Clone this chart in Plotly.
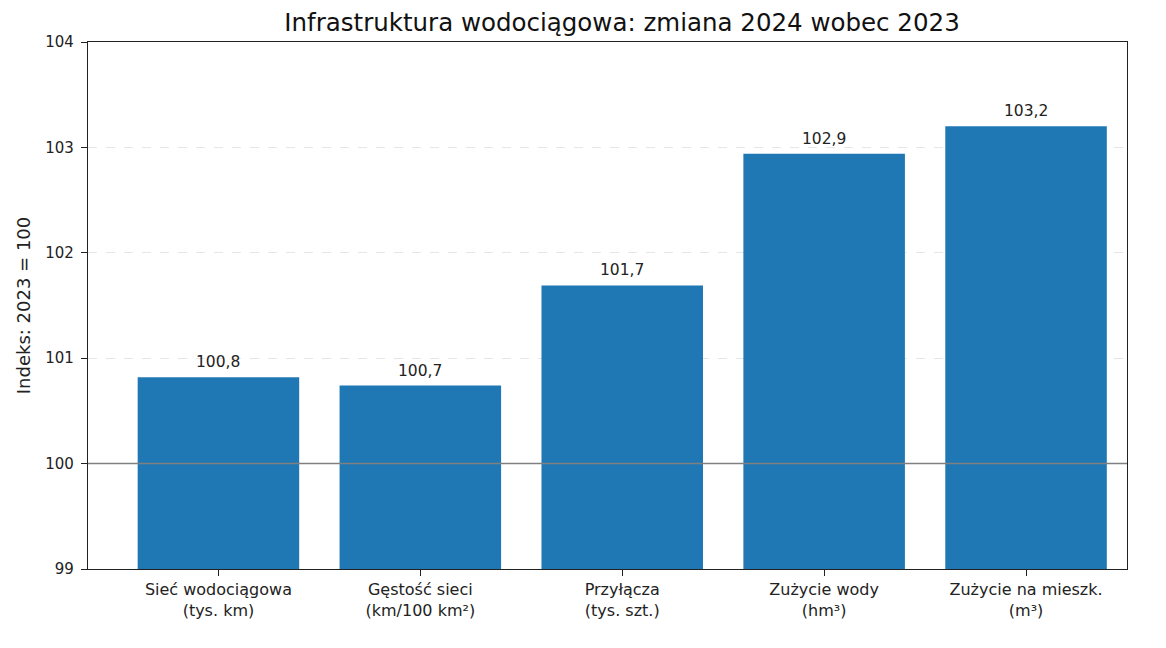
import plotly.graph_objects as go

categories = ["Sieć wodociągowa<br>(tys. km)", "Gęstość sieci<br>(km/100 km²)",
              "Przyłącza<br>(tys. szt.)", "Zużycie wody<br>(hm³)",
              "Zużycie na mieszk.<br>(m³)"]
values = [100.82, 100.74, 101.69, 102.94, 103.2]
y_ticks = [99, 100, 101, 102, 103, 104]

positions = list(range(len(categories)))
labels = [f"{v:.1f}".replace(".", ",") for v in values]

fig = go.Figure()
fig.add_trace(go.Bar(
    x=positions, y=values, width=0.8,
    marker=dict(color="#1f77b4", line=dict(width=0)),
    hoverinfo="x+y",
))

# value labels above bars
for p, v, t in zip(positions, values, labels):
    fig.add_annotation(x=p, y=v, text=t, showarrow=False, yanchor="bottom",
                       yshift=4, font=dict(size=15.5, color="#222"))

# reference line at 100
fig.add_hline(y=100, line=dict(color="#808080", width=1.5), layer="above")

fig.update_layout(
    width=1166, height=648,
    paper_bgcolor="white", plot_bgcolor="white",
    font=dict(family="DejaVu Sans", size=15, color="#222"),
    title=dict(text="Infrastruktura wodociągowa: zmiana 2024 wobec 2023",
               x=0.5266, xanchor="center", y=0.977, yanchor="middle",
               font=dict(size=24.5, color="#111")),
    margin=dict(l=80, r=47, t=34, b=87),
    showlegend=False,
)
fig.update_xaxes(
    range=[-0.646, 4.5], tickvals=positions, ticktext=categories,
    tickfont=dict(size=16),
    showgrid=False, showline=True, linecolor="#222", linewidth=1.2, mirror=True,
    ticks="outside", ticklen=6, tickcolor="#222", zeroline=False,
)
fig.update_yaxes(
    range=[99, 104], tickvals=y_ticks, ticktext=[str(t) for t in y_ticks],
    showgrid=True, gridcolor="#e6e6e6", griddash="dash", gridwidth=1,
    showline=True, linecolor="#222", linewidth=1.2, mirror=True,
    ticks="outside", ticklen=6, tickcolor="#222", zeroline=False,
    ticklabelstandoff=4,
    title=dict(text="Indeks: 2023 = 100", font=dict(size=18), standoff=9),
)

fig.write_html("out.html")
